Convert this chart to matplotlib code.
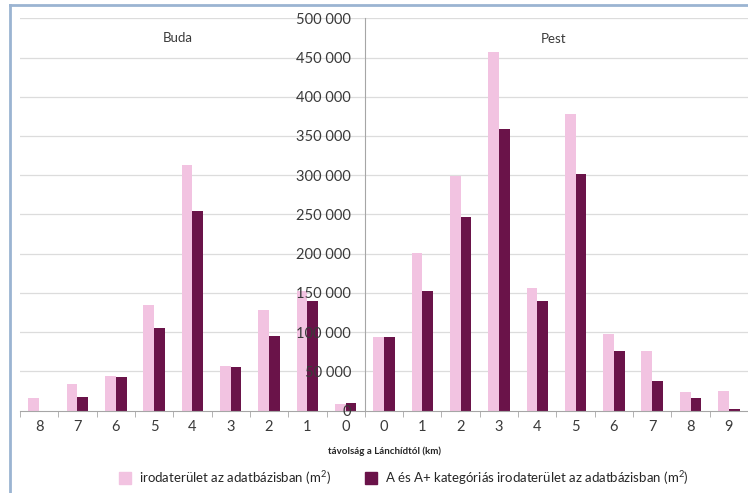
import matplotlib.pyplot as plt
from matplotlib.lines import Line2D
from matplotlib.ticker import FuncFormatter, MultipleLocator, FixedLocator

plt.rcParams['font.family'] = ['Lato', 'DejaVu Sans']
plt.rcParams['mathtext.fontset'] = 'custom'
plt.rcParams['mathtext.rm'] = 'Lato'
plt.rcParams['mathtext.default'] = 'regular'

# distance bands from the Chain Bridge, Buda side first (8 -> 0), then Pest (0 -> 9)
buda_km = ['8', '7', '6', '5', '4', '3', '2', '1', '0']
pest_km = ['0', '1', '2', '3', '4', '5', '6', '7', '8', '9']

# total office space in the database (m2)
buda_total = [15700, 34000, 43500, 134000, 313000, 56700, 128000, 152600, 8600]
pest_total = [94300, 200400, 299500, 456500, 156000, 378000, 97700, 76400, 24200, 25000]

# A and A+ category office space (m2)
buda_a = [0, 16600, 42600, 105700, 254500, 55000, 95000, 140000, 9000]
pest_a = [93500, 152500, 247000, 358500, 139000, 302000, 76000, 38200, 16200, 2200]

labels = buda_km + pest_km
total = buda_total + pest_total
a_cat = buda_a + pest_a

pink = '#f2c3e1'
plum = '#6a1349'

fig = plt.figure(figsize=(7.48, 4.93), dpi=100)
ax = fig.add_axes([20 / 748, 1 - 410.5 / 493, 728 / 748, 392.2 / 493])

x = list(range(len(labels)))
w = 0.28
ax.bar([i - w / 2 for i in x], total, width=w, color=pink, zorder=2)
ax.bar([i + w / 2 for i in x], a_cat, width=w, color=plum, zorder=2)

ax.set_xlim(-0.5, len(labels) - 0.5)
ax.set_ylim(0, 500000)

# horizontal gridlines behind the bars
for yv in range(50000, 500001, 50000):
    ax.axhline(yv, color='#dcdcdc', linewidth=0.9, zorder=0)

# y axis sits between the two "0" bands, labels drawn over the bars
ax.spines['left'].set_position(('data', 8.5))
ax.spines['left'].set_color('#a6a6a6')
ax.spines['bottom'].set_color('#a6a6a6')
ax.spines['top'].set_visible(False)
ax.spines['right'].set_visible(False)
ax.yaxis.set_zorder(5)

ax.yaxis.set_major_locator(MultipleLocator(50000))
ax.yaxis.set_major_formatter(FuncFormatter(lambda v, p: f'{int(v):,}'.replace(',', ' ')))
ax.tick_params(axis='y', length=0, pad=10, labelsize=10.5, labelcolor='#3a3a3a')

ax.set_xticks(x)
ax.set_xticklabels(labels)
ax.tick_params(axis='x', which='major', length=0, pad=7, labelsize=10.5, labelcolor='#3a3a3a')
ax.xaxis.set_minor_locator(FixedLocator([i - 0.5 for i in range(len(labels) + 1)]))
ax.tick_params(axis='x', which='minor', length=4, color='#a6a6a6')

ax.set_xlabel('távolság a Lánchídtól (km)', fontsize=7, fontweight='bold',
              color='#262626', labelpad=3)
ax.xaxis.set_label_coords((385 - 20) / 728, -0.092)

ax.text(3.63, 474500, 'Buda', ha='center', va='center', fontsize=9.5, color='#3a3a3a')
ax.text(13.43, 473000, 'Pest', ha='center', va='center', fontsize=9.5, color='#3a3a3a')

handles = [Line2D([], [], marker='s', linestyle='none', markersize=8, color=pink),
           Line2D([], [], marker='s', linestyle='none', markersize=8, color=plum)]
fig.legend(handles, ['irodaterület az adatbázisban (m$^2$)',
                     'A és A+ kategóriás irodaterület az adatbázisban (m$^2$)'],
           loc='center', bbox_to_anchor=(400 / 748, 1 - 478 / 493), ncol=2,
           frameon=False, fontsize=9.5, handletextpad=0.1, columnspacing=2.0,
           labelcolor='#262626')

# chart area border (left and top edges)
fig.add_artist(Line2D([9.5 / 748, 9.5 / 748], [0, 1 - 4.5 / 493],
                      transform=fig.transFigure, color='#9bb4d2', linewidth=2))
fig.add_artist(Line2D([9.5 / 748, 1], [1 - 4.5 / 493, 1 - 4.5 / 493],
                      transform=fig.transFigure, color='#9bb4d2', linewidth=2))

fig.savefig('out.png', dpi=100)
